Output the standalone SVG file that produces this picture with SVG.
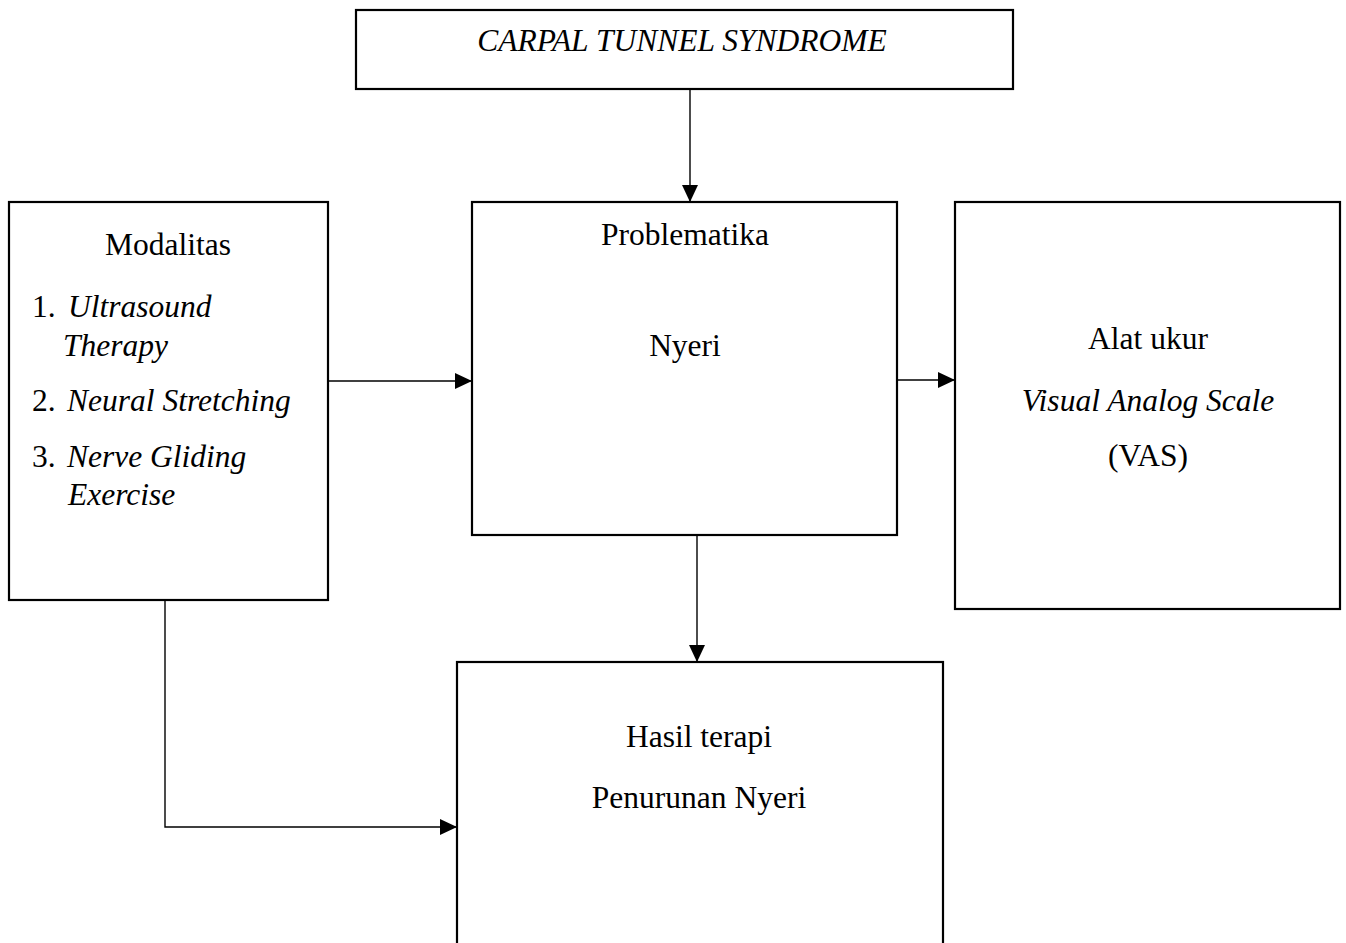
<svg xmlns="http://www.w3.org/2000/svg" width="1346" height="943" viewBox="0 0 1346 943">
<style>
.box{fill:#fff;stroke:#000;stroke-width:2.2}
.t{font-family:"Liberation Serif","Times New Roman",serif;font-size:31.5px;fill:#000}
.c{text-anchor:middle}
.i{font-style:italic}
.ln{fill:none;stroke:#000;stroke-width:1.4}
</style>
<defs>
<marker id="ah" markerUnits="userSpaceOnUse" markerWidth="17" markerHeight="16" refX="17" refY="8" orient="auto">
<path d="M0,0 L17,8 L0,16 Z" fill="#000"/>
</marker>
</defs>
<rect width="1346" height="943" fill="#fff"/>
<g id="connectors">
<line class="ln" x1="690" y1="89" x2="690" y2="202" marker-end="url(#ah)"/>
<line class="ln" x1="328" y1="381" x2="472" y2="381" marker-end="url(#ah)"/>
<line class="ln" x1="897" y1="380" x2="955" y2="380" marker-end="url(#ah)"/>
<line class="ln" x1="697" y1="535" x2="697" y2="662" marker-end="url(#ah)"/>
<polyline class="ln" points="165,600 165,827 457,827" marker-end="url(#ah)"/>
</g>
<g id="node-cts">
<rect class="box" x="356" y="10" width="657" height="79"/>
<text class="t c i" x="682" y="51">CARPAL TUNNEL SYNDROME</text>
</g>
<g id="node-modalitas">
<rect class="box" x="9" y="202" width="319" height="398"/>
<text class="t c" x="168" y="255">Modalitas</text>
<text class="t" x="32" y="317">1.</text>
<text class="t i" x="68" y="317">Ultrasound</text>
<text class="t i" x="63" y="356">Therapy</text>
<text class="t" x="32" y="411">2.</text>
<text class="t i" x="67" y="411">Neural Stretching</text>
<text class="t" x="32" y="467">3.</text>
<text class="t i" x="67" y="467">Nerve Gliding</text>
<text class="t i" x="68" y="505">Exercise</text>
</g>
<g id="node-problematika">
<rect class="box" x="472" y="202" width="425" height="333"/>
<text class="t c" x="685" y="245">Problematika</text>
<text class="t c" x="685" y="356">Nyeri</text>
</g>
<g id="node-alat">
<rect class="box" x="955" y="202" width="385" height="407"/>
<text class="t c" x="1148" y="349">Alat ukur</text>
<text class="t c i" x="1148" y="411">Visual Analog Scale</text>
<text class="t c" x="1148" y="466">(VAS)</text>
</g>
<g id="node-hasil">
<rect class="box" x="457" y="662" width="486" height="300"/>
<text class="t c" x="699" y="747">Hasil terapi</text>
<text class="t c" x="699" y="808">Penurunan Nyeri</text>
</g>
</svg>
